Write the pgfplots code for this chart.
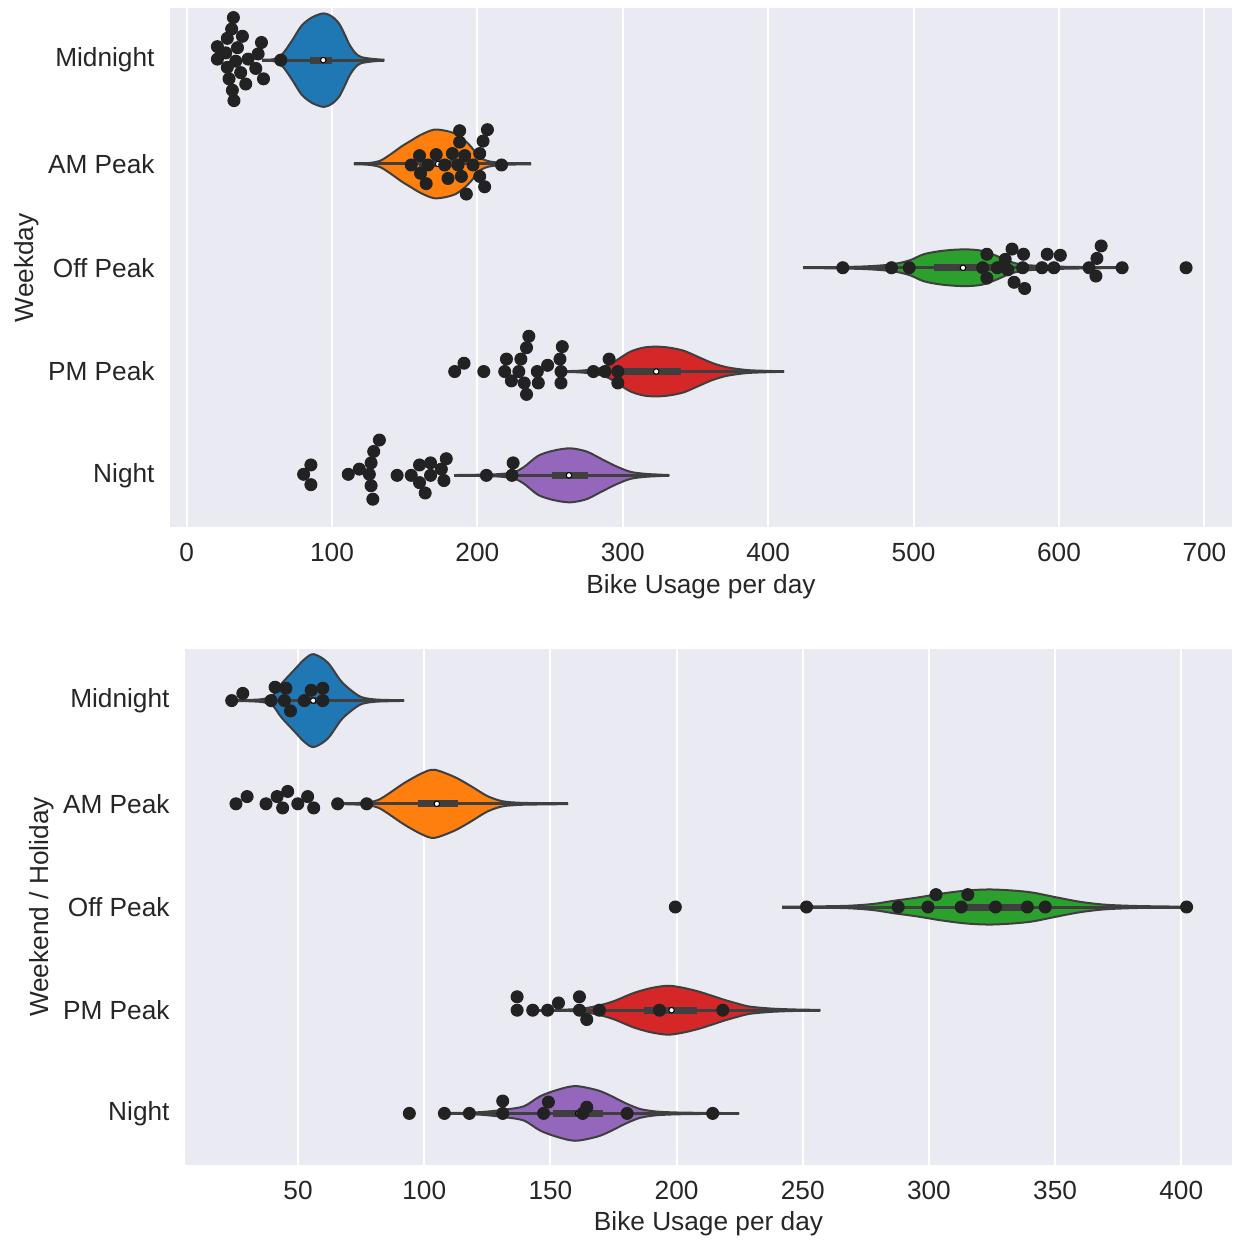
\documentclass[border=0pt]{standalone}
\usepackage{pgfplots}
\pgfplotsset{compat=1.18}
\usepackage{pgfplotstable}
\usepgfplotslibrary{fillbetween}
\usepackage{fontspec}
\setmainfont{Liberation Sans}
\definecolor{sbbg}{HTML}{EAEAF2}
\definecolor{txt}{HTML}{262626}
\definecolor{edge}{HTML}{3F3F3F}
\definecolor{dot}{HTML}{222222}
\definecolor{c0}{HTML}{1F77B4}
\definecolor{c1}{HTML}{FF7F0E}
\definecolor{c2}{HTML}{2CA02C}
\definecolor{c3}{HTML}{D62728}
\definecolor{c4}{HTML}{9467BD}

% violin half-width profiles (x, half-width in category units)
\pgfplotstableread{
x w
52 0.004
60 0.01
66 0.06
72.6 0.19
79 0.33
86 0.41
94 0.45
100 0.42
105 0.35
109 0.24
112 0.15
116 0.07
120 0.03
128 0.012
136 0.004
}\vTa
\pgfplotstableread{
x w
115 0.003
125 0.008
133 0.03
140 0.09
148 0.17
155 0.23
161 0.28
170 0.33
178 0.32
185 0.29
191 0.23
196 0.16
201 0.07
208 0.025
220 0.008
237 0.003
}\vTb
\pgfplotstableread{
x w
424 0.003
445 0.006
465 0.012
480 0.025
490 0.045
498 0.075
507 0.13
518 0.16
530 0.175
540 0.175
548 0.16
557 0.115
566 0.06
575 0.03
590 0.015
610 0.008
643 0.003
}\vTc
\pgfplotstableread{
x w
256 0.003
270 0.008
282 0.025
290 0.06
297 0.12
305 0.19
314 0.23
323 0.24
332 0.23
342 0.2
352 0.14
362 0.08
372 0.04
385 0.015
398 0.007
411 0.003
}\vTd
\pgfplotstableread{
x w
184 0.003
200 0.006
215 0.012
225 0.03
232 0.08
242 0.19
253 0.24
264 0.26
275 0.23
285 0.16
295 0.09
305 0.035
315 0.015
325 0.007
332 0.003
}\vTe
\pgfplotstableread{
x w
23.5 0.003
30 0.006
36 0.015
40 0.05
43.3 0.16
48.6 0.3
52.5 0.4
56.2 0.45
61.7 0.37
67 0.19
71 0.1
75 0.035
80 0.012
86 0.006
92 0.003
}\vBa
\pgfplotstableread{
x w
65.7 0.003
72 0.006
78 0.015
82 0.04
86 0.1
92 0.2
99 0.295
104 0.33
112 0.26
118.6 0.17
125 0.075
131 0.025
138 0.01
147 0.006
157 0.003
}\vBb
\pgfplotstableread{
x w
241.8 0.003
255 0.006
268 0.012
278 0.03
286 0.06
295 0.09
305 0.13
315 0.16
324 0.17
333 0.16
341 0.14
350 0.096
360 0.05
370 0.022
382 0.01
395 0.005
402 0.003
}\vBc
\pgfplotstableread{
x w
151 0.003
158 0.008
164 0.02
170 0.05
175.4 0.09
183 0.167
190 0.215
196.5 0.237
202 0.22
208.4 0.183
214 0.14
219 0.1
224 0.065
229 0.035
237.5 0.016
247 0.007
257 0.003
}\vBd
\pgfplotstableread{
x w
108 0.003
115 0.006
122 0.012
128 0.025
133 0.04
139.6 0.07
146 0.167
153 0.23
160 0.265
168.7 0.224
174 0.17
178 0.12
182 0.075
186 0.04
192 0.018
200 0.009
212 0.005
224.8 0.003
}\vBe

\newcommand{\violinshape}[4]{%
  \addplot[name path=#4u, draw=edge, line width=0.8pt, smooth] table[x=x, y expr={#2-\thisrow{w}}] {#1};
  \addplot[name path=#4l, draw=edge, line width=0.8pt, smooth] table[x=x, y expr={#2+\thisrow{w}}] {#1};
  \addplot[fill=#3, draw=none] fill between[of=#4u and #4l];
}
% #1 centre, #2-#3 whisker, #4-#5 box, #6 median
\newcommand{\violininner}[6]{%
  \addplot[draw=edge, line width=1.2pt] coordinates {(#2,#1) (#3,#1)};
  \addplot[draw=edge, line width=2.8pt] coordinates {(#4,#1) (#5,#1)};
  \addplot[only marks, mark=*, mark size=1.1pt, mark options={fill=white, draw=none}] coordinates {(#6,#1)};
}

\pgfplotsset{sbstyle/.style={
  scale only axis,
  anchor=north west,
  axis background/.style={fill=sbbg},
  axis line style={draw=none},
  major tick length=0pt,
  xmajorgrids,
  grid style={white, line width=0.8pt},
  ymin=-0.5, ymax=4.5, y dir=reverse,
  ytick={0,1,2,3,4},
  yticklabels={Midnight,AM Peak,Off Peak,PM Peak,Night},
  tick label style={font=\fontsize{10.5}{12.6}\selectfont, text=txt, inner sep=0pt},
  label style={font=\fontsize{10.5}{12.6}\selectfont, text=txt},
  xticklabel shift=6.3pt,
  yticklabel shift=6pt,
  xlabel style={inner sep=0pt, yshift=-4.6pt},
  /pgf/number format/assume math mode=true,
  xlabel={Bike Usage per day},
}}

\begin{document}
\begin{tikzpicture}
\begin{axis}[sbstyle,
  at={(68pt,-3.3pt)}, width=424.8pt, height=207.6pt,
  xmin=-11.4, xmax=719,
  xtick={0,100,200,300,400,500,600,700},
  ylabel={Weekday}]
\violinshape{\vTa}{0}{c0}{ta}
\violininner{0}{52}{136}{85}{100}{94}
\violinshape{\vTb}{1}{c1}{tb}
\violininner{1}{115}{237}{160}{188}{173}
\violinshape{\vTc}{2}{c2}{tc}
\violininner{2}{424}{643}{514}{554}{534}
\violinshape{\vTd}{3}{c3}{td}
\violininner{3}{256}{411}{300}{340}{323}
\violinshape{\vTe}{4}{c4}{te}
\violininner{4}{184}{332}{251}{276}{263}
\addplot[only marks, mark=*, mark size=2.4pt, mark options={fill=dot, draw=dot}] coordinates {
(32.2,-0.41)(31,-0.30)(28,-0.21)(38.4,-0.23)(21.2,-0.13)(35,-0.12)(51.5,-0.17)(26.9,-0.07)(49.2,-0.06)(21.2,-0.01)(33.8,0.01)(42.3,-0.01)(64.8,0.0)(28,0.07)(47.6,0.08)(37.2,0.12)(52.9,0.18)(29.2,0.18)(40.7,0.23)(31.5,0.29)(32.6,0.39)
(187.8,0.68)(206.9,0.67)(187.8,0.79)(203.9,0.78)(160.2,0.92)(171.7,0.91)(182.8,0.90)(191.3,0.92)(201.6,0.90)(154.5,1.01)(166,1.01)(177.5,1.01)(186.7,1.01)(197,1.01)(216.6,1.01)(160.9,1.09)(179.8,1.14)(189,1.12)(201.6,1.12)(164.8,1.19)(205,1.22)(192.4,1.29)
(451.3,2)(484.8,2)(497,2)(550.4,1.87)(547.5,2)(550.4,2.10)(557.6,2)(563,1.92)(567.7,1.82)(575.6,1.87)(564.8,2.02)(569.1,2.14)(576.4,2.20)(575,2)(588.3,2)(591.9,1.87)(596.5,2)(600.9,1.88)(620.7,2)(626.1,1.91)(629,1.79)(625.4,2.08)(643.4,2)(687.4,2)
(184.4,3)(190.8,2.92)(204.4,3)(235.4,2.66)(233.8,2.77)(220,2.88)(229.9,2.88)(218.8,3)(228.5,3)(241.2,3)(223.4,3.09)(232.2,3.11)(241.9,3.11)(233.8,3.22)(248.3,2.94)(258.4,2.76)(256.8,2.88)(257.5,3)(257.5,3.11)(279.8,3)(290.6,2.88)(287.8,3)(296.6,3)(296.6,3.11)
(85.5,3.90)(80.5,3.99)(85.5,4.09)(132.6,3.66)(128.7,3.77)(126.9,3.88)(118.8,3.94)(111.2,3.99)(125.7,3.99)(126.9,4.10)(128.1,4.23)(144.8,4)(154.5,4)(160.2,3.90)(167.8,3.88)(178.6,3.84)(167.8,4)(175.2,3.94)(160.2,4.07)(177,4.05)(164.1,4.17)(206.2,4)(224.6,3.88)(223.8,4)
};
\end{axis}

\begin{axis}[sbstyle,
  at={(74pt,-259.6pt)}, width=418.8pt, height=206.4pt,
  xmin=5.2, xmax=420.1,
  xtick={50,100,150,200,250,300,350,400},
  ylabel={Weekend / Holiday}]
\violinshape{\vBa}{0}{c0}{ba}
\violininner{0}{23.5}{92}{51}{60.5}{56}
\violinshape{\vBb}{1}{c1}{bb}
\violininner{1}{65.7}{157}{97.4}{113.3}{105}
\violinshape{\vBc}{2}{c2}{bc}
\violininner{2}{241.8}{402}{312}{341}{325}
\violinshape{\vBd}{3}{c3}{bd}
\violininner{3}{143}{257}{187}{208}{198}
\violinshape{\vBe}{4}{c4}{be}
\violininner{4}{108}{224.8}{151}{170.7}{161}
\addplot[only marks, mark=*, mark size=2.4pt, mark options={fill=dot, draw=dot}] coordinates {
(23.7,0)(28.1,-0.07)(39.3,0)(40.9,-0.13)(45.2,-0.12)(44.6,0)(47,0.10)(52.5,0)(55.2,-0.10)(59.8,-0.12)(59.8,0)
(25.4,1)(29.8,0.93)(37.3,1)(41.7,0.93)(45.9,0.88)(43.9,1.04)(49.9,1)(53.8,0.93)(56.2,1.04)(65.7,1)(77.2,1)
(199.5,2)(251.5,2)(287.8,2)(299.6,2)(302.8,1.88)(312.8,2)(315.4,1.88)(326.4,2)(339,2)(346.1,2)(402.1,2)
(136.8,2.87)(136.8,3)(143,3)(148.9,3)(153.2,2.93)(161.5,2.87)(161.5,3)(164.4,3.09)(169.4,3)(193.2,3)(218.3,3)
(94.1,4)(108,4)(117.9,4)(131.1,3.88)(131.1,4)(149.2,3.89)(147.3,4)(164.4,3.94)(162.8,4)(180.4,4)(214.3,4)
};
\end{axis}
\pgfresetboundingbox
\path (0,0) rectangle (493.2pt,-497.2pt);
\end{tikzpicture}
\end{document}
